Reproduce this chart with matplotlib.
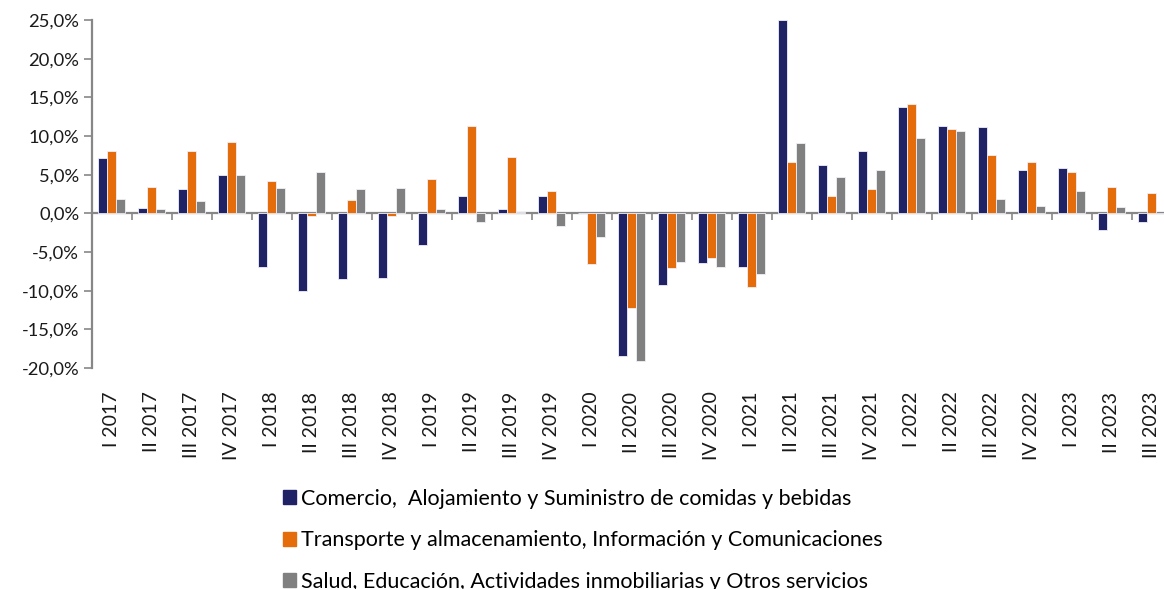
import matplotlib
matplotlib.use("Agg")
import matplotlib.pyplot as plt
import matplotlib.patches as mpatches
import numpy as np
from matplotlib.ticker import FuncFormatter

categories = ["I 2017", "II 2017", "III 2017", "IV 2017",
              "I 2018", "II 2018", "III 2018", "IV 2018",
              "I 2019", "II 2019", "III 2019", "IV 2019",
              "I 2020", "II 2020", "III 2020", "IV 2020",
              "I 2021", "II 2021", "III 2021", "IV 2021",
              "I 2022", "II 2022", "III 2022", "IV 2022",
              "I 2023", "II 2023", "III 2023"]

comercio = [7.1, 0.7, 3.1, 4.9,
            -7.0, -10.0, -8.5, -8.4,
            -4.1, 2.2, 0.6, 2.2,
            0.0, -18.4, -9.3, -6.4,
            -7.0, 25.0, 6.2, 8.1,
            13.8, 11.3, 11.1, 5.6,
            5.9, -2.2, -1.1]
transporte = [8.1, 3.4, 8.1, 9.2,
              4.2, -0.4, 1.7, -0.4,
              4.4, 11.3, 7.3, 2.9,
              -6.5, -12.2, -7.1, -5.8,
              -9.5, 6.6, 2.2, 3.1,
              14.2, 10.9, 7.5, 6.7,
              5.4, 3.4, 2.6]
salud = [1.8, 0.6, 1.6, 5.0,
         3.3, 5.4, 3.2, 3.3,
         0.6, -1.1, 0.2, -1.6,
         -3.1, -19.1, -6.3, -7.0,
         -7.9, 9.1, 4.7, 5.6,
         9.7, 10.6, 1.8, 1.0,
         2.9, 0.8, 0.0]

series_names = ["Comercio,  Alojamiento y Suministro de comidas y bebidas",
                "Transporte y almacenamiento, Información y Comunicaciones",
                "Salud, Educación, Actividades inmobiliarias y Otros servicios"]
colors = ["#1F2366", "#E46C0A", "#808080"]

plt.rcParams['font.family'] = ['Lato', 'DejaVu Sans']

W, H = 1164, 589
fig = plt.figure(figsize=(W / 100, H / 100), dpi=100)
left_px, right_px, top_px, bot_px = 91.7, 1171.7, 20.0, 368.0
ax = fig.add_axes([left_px / W, 1 - bot_px / H, (right_px - left_px) / W, (bot_px - top_px) / H])

x = np.arange(len(categories))
bw = 0.225
for i, (vals, c) in enumerate(zip([comercio, transporte, salud], colors)):
    ax.bar(x + (i - 1) * bw, vals, width=bw, color=c, edgecolor="#f0f0f8", linewidth=0.6, zorder=2)

ax.set_xlim(-0.5, len(categories) - 0.5)
ax.set_ylim(-20, 25)
ax.set_yticks(np.arange(-20, 26, 5))
ax.yaxis.set_major_formatter(FuncFormatter(lambda v, p: f"{v:.1f}%".replace(".", ",")))
ax.tick_params(axis='y', direction='out', length=6, width=1.2, color="#878787",
               labelsize=13.2, labelcolor="#1a1a1a", pad=3)

for s in ["top", "right", "bottom"]:
    ax.spines[s].set_visible(False)
ax.spines["left"].set_color("#878787")
ax.spines["left"].set_linewidth(1.6)

# category labels at bottom
ax.set_xticks(x)
ax.set_xticklabels(categories, rotation=90, fontsize=14, color="#1a1a1a")
ax.tick_params(axis='x', length=0, pad=17)

# zero line with boundary ticks
zero_frac = 20 / 45
sec = ax.secondary_xaxis(zero_frac)
sec.set_xticks(np.arange(-0.5, len(categories) + 0.5, 1.0))
sec.set_xticklabels([])
sec.tick_params(axis='x', direction='out', length=5, width=1.2, color="#878787")
sec.spines["bottom"].set_color("#878787")
sec.spines["bottom"].set_linewidth(1.6)
sec.spines["bottom"].set_zorder(3)

handles = [mpatches.Patch(color=c, label=n) for c, n in zip(colors, series_names)]
fig.legend(handles=handles, loc="upper left", bbox_to_anchor=(272 / W, 1 - 478 / H),
           frameon=False, fontsize=15.5, handlelength=0.62, handleheight=0.62,
           handletextpad=0.25, labelspacing=1.0, borderpad=0)

fig.savefig("out.png", dpi=100)
